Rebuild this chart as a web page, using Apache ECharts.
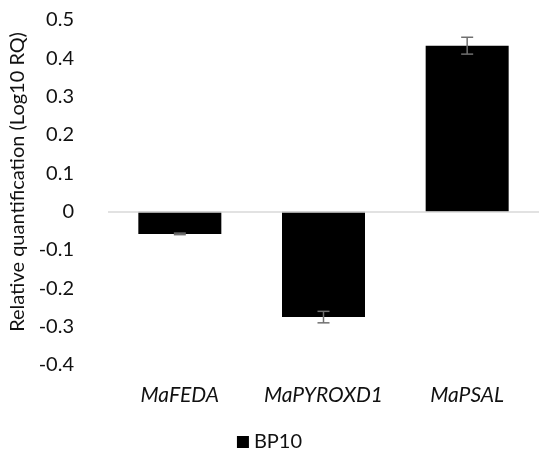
<!DOCTYPE html>
<html>
<head>
<meta charset="utf-8">
<script src="https://cdn.jsdelivr.net/npm/echarts@6/dist/echarts.min.js"></script>
<style>
html, body { margin: 0; padding: 0; background: #fff; }
#main { width: 539px; height: 455px; }
</style>
</head>
<body>
<div id="main"></div>
<script>
var genes = ['MaFEDA', 'MaPYROXD1', 'MaPSAL'];
var bp10 = [-0.058, -0.275, 0.433];
var bp10Err = [0.002, 0.015, 0.022];
var yTicks = [-0.4, 0.5, 0.1];   // min, max, step

var errData = genes.map(function (g, i) {
    return [i, bp10[i] - bp10Err[i], bp10[i] + bp10Err[i]];
});

var myChart = echarts.init(document.getElementById('main'));
var option = {
    backgroundColor: '#fff',
    textStyle: { fontFamily: 'Lato' },
    grid: { left: 108, right: -4, top: 20, bottom: 90 },
    legend: {
        bottom: -2,
        left: 'center',
        icon: 'rect',
        itemWidth: 12,
        itemHeight: 12,
        itemGap: 6,
        data: ['BP10'],
        textStyle: { color: '#111', fontSize: 20, fontFamily: 'Lato' }
    },
    graphic: [{
        type: 'text',
        x: 18,
        y: 182,
        rotation: Math.PI / 2,
        style: {
            text: 'Relative quantification (Log10 RQ)',
            fill: '#111',
            font: '20px Lato',
            textAlign: 'center',
            textVerticalAlign: 'middle'
        }
    }],
    xAxis: {
        type: 'category',
        data: genes,
        axisLine: { show: false, onZero: false },
        axisTick: { show: false },
        axisLabel: {
            interval: 0,
            hideOverlap: false,
            margin: 20,
            color: '#111',
            fontSize: 21,
            fontStyle: 'italic',
            fontFamily: 'Lato'
        }
    },
    yAxis: {
        type: 'value',
        min: yTicks[0],
        max: yTicks[1],
        interval: yTicks[2],
        splitLine: { show: false },
        axisLine: { show: false },
        axisTick: { show: false },
        axisLabel: {
            margin: 34,
            color: '#111',
            fontSize: 20,
            fontFamily: 'Lato',
            formatter: function (v) { return String(Math.round(v * 10) / 10); }
        }
    },
    series: [
        {
            name: 'BP10',
            type: 'bar',
            data: bp10,
            barWidth: 83,
            itemStyle: { color: '#000' },
            markLine: {
                silent: true,
                symbol: 'none',
                label: { show: false },
                lineStyle: { color: '#d9d9d9', width: 1.5, type: 'solid' },
                data: [{ yAxis: 0 }]
            }
        },
        {
            name: 'err',
            type: 'custom',
            data: errData,
            z: 10,
            renderItem: function (params, api) {
                var x = api.value(0);
                var lo = api.coord([x, api.value(1)]);
                var hi = api.coord([x, api.value(2)]);
                var hw = 6;
                var st = { stroke: '#707070', lineWidth: 1.5 };
                return {
                    type: 'group',
                    children: [
                        { type: 'line', shape: { x1: lo[0], y1: lo[1], x2: hi[0], y2: hi[1] }, style: st },
                        { type: 'line', shape: { x1: lo[0] - hw, y1: lo[1], x2: lo[0] + hw, y2: lo[1] }, style: st },
                        { type: 'line', shape: { x1: hi[0] - hw, y1: hi[1], x2: hi[0] + hw, y2: hi[1] }, style: st }
                    ]
                };
            }
        }
    ]
};
myChart.setOption(option);
</script>
</body>
</html>
